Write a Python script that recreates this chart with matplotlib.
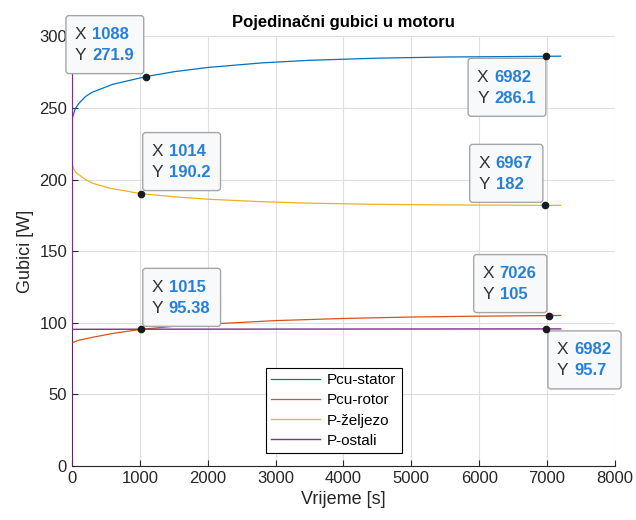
import matplotlib.pyplot as plt
import matplotlib.transforms as mtransforms
from matplotlib.patches import FancyBboxPatch

plt.rcParams['font.family'] = ['Liberation Sans', 'DejaVu Sans']

# values
t_stator = [0, 10, 50, 100, 200, 300, 600, 1088, 1500, 2000, 2800, 3500, 4500, 5500, 6982, 7200]
p_stator = [239.5, 243.5, 249.5, 253, 258, 261, 266.5, 271.9, 275.3, 278.3, 281.5, 283.3, 284.8, 285.6, 286.1, 286.2]

t_rotor = [0, 100, 300, 600, 1015, 1500, 2000, 3000, 4000, 5000, 6000, 7026, 7200]
p_rotor = [86, 87.8, 89.8, 92.5, 95.38, 97.5, 99, 101.5, 103, 104, 104.6, 105, 105.1]

t_zeljezo = [0, 10, 30, 70, 115, 200, 300, 557, 1014, 1500, 2000, 2767, 3500, 4500, 5500, 6967, 7200]
p_zeljezo = [212.5, 210, 207, 204.5, 203, 200, 197.5, 194, 190.2, 188, 186.3, 184.6, 183.5, 182.7, 182.3, 182, 182]

t_ostali = [0, 0, 5, 1015, 4000, 6982, 7200]
p_ostali = [0, 400, 95.4, 95.5, 95.6, 95.7, 95.7]

labels = ['Pcu-stator', 'Pcu-rotor', 'P-željezo', 'P-ostali']
colors = ['#0072bd', '#d95319', '#edb120', '#7e2f8e']

# data tips: x, y, shown values, where the box sits
tips = [
    (1088, 271.9, '1088', '271.9', 'ul'),
    (1014, 190.2, '1014', '190.2', 'ur'),
    (6982, 286.1, '6982', '286.1', 'll'),
    (6967, 182, '6967', '182', 'ul'),
    (1015, 95.38, '1015', '95.38', 'ur'),
    (7026, 105, '7026', '105', 'ul'),
    (6982, 95.7, '6982', '95.7', 'lr'),
]

fig = plt.figure(figsize=(6.36, 5.2), dpi=100)
ax = fig.add_axes([0.113, 0.104, 0.854, 0.826])

ax.plot(t_stator, p_stator, color=colors[0], lw=0.9, label=labels[0], zorder=3)
ax.plot(t_rotor, p_rotor, color=colors[1], lw=0.9, label=labels[1], zorder=3)
ax.plot(t_zeljezo, p_zeljezo, color=colors[2], lw=0.9, label=labels[2], zorder=3)
ax.plot(t_ostali, p_ostali, color=colors[3], lw=1.0, label=labels[3], zorder=3)

ax.set_xlim(0, 8000)
ax.set_ylim(0, 300)
ax.set_xticks(range(0, 8001, 1000))
ax.set_yticks(range(0, 301, 50))
ax.grid(True, color='#dedede', lw=0.8)
ax.set_axisbelow(True)
for s in ['top', 'right']:
    ax.spines[s].set_visible(False)
for s in ['left', 'bottom']:
    ax.spines[s].set_color('#262626')
ax.tick_params(direction='in', length=4, labelsize=12, colors='#262626')

ax.set_title('Pojedinačni gubici u motoru', fontsize=12, fontweight='bold', pad=7)
ax.set_xlabel('Vrijeme [s]', fontsize=13, color='#262626')
ax.set_ylabel('Gubici [W]', fontsize=13, color='#262626')

leg = ax.legend(loc='lower left', bbox_to_anchor=(0.357, 0.03), fontsize=11,
                handlelength=3.2, fancybox=False, edgecolor='black',
                framealpha=1, borderpad=0.35, labelspacing=0.4, handletextpad=0.45,
                borderaxespad=0)
leg.get_frame().set_linewidth(0.8)

h = 58
for x, y, xs, ys, side in tips:
    vw = max(sum(4.6 if c == '.' else 9.3 for c in s) for s in (xs, ys))
    w = 26 + vw + 10
    if side == 'ul':
        x0, y0 = -w - 2, 3
    elif side == 'ur':
        x0, y0 = 2, 3
    elif side == 'll':
        x0, y0 = -w, -2 - h
    else:
        x0, y0 = 2, -2 - h
    tr = mtransforms.Affine2D().scale(1.0) + mtransforms.ScaledTranslation(x, y, ax.transData)
    box = FancyBboxPatch((x0, y0), w, h, boxstyle='round,pad=0,rounding_size=3',
                         facecolor='#f8f9fb', edgecolor='#a6a6a6', lw=1.0,
                         transform=tr, clip_on=False, zorder=5)
    ax.add_artist(box)
    for row, (lab, val) in enumerate([('X', xs), ('Y', ys)]):
        yy = y0 + h - 19 - row * 21
        ax.text(x0 + 9, yy, lab, transform=tr, fontsize=12.5, color='#333333',
                va='center', ha='left', zorder=6, clip_on=False)
        ax.text(x0 + 26, yy, val, transform=tr, fontsize=12, color='#2680d9',
                fontweight='bold', va='center', ha='left', zorder=6, clip_on=False)
    ax.plot([x], [y], 'o', color='#1a1a1a', ms=4.5, zorder=7, clip_on=False)

fig.savefig('out.png', dpi=100)
